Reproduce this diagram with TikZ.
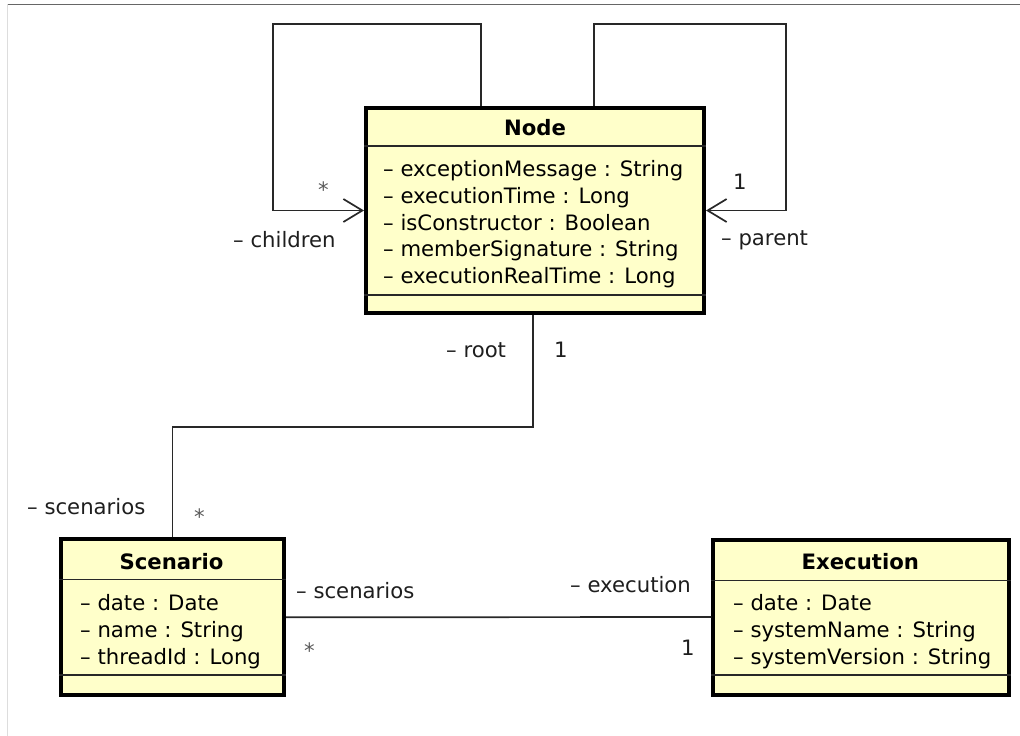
\documentclass[tikz,border=0pt]{standalone}
\usepackage{fontspec}
\setmainfont{DejaVu Sans}
\usetikzlibrary{arrows.meta}
\definecolor{classfill}{RGB}{255,255,202}
\definecolor{linegray}{RGB}{40,40,40}
\definecolor{labelgray}{RGB}{30,30,30}
\newcommand{\txtf}{\fontsize{21.2}{26}\selectfont}
\tikzset{
  classbox/.style={draw=black, line width=4pt, fill=classfill, rectangle, inner sep=0pt},
  sepline/.style={draw=linegray, line width=1.6pt},
  assoc/.style={draw=linegray, line width=1.7pt},
  navarrow/.style={-{Straight Barb[length=19pt,width=23pt]}},
  attr/.style={anchor=base west, inner sep=0pt, font=\txtf, text=black},
  ctitle/.style={anchor=base, inner sep=0pt, font=\txtf\bfseries, text=black},
  lbl/.style={anchor=base west, inner sep=0pt, font=\txtf, text=labelgray},
  star/.style={anchor=base west, inner sep=0pt, font=\txtf, text={rgb,255:red,90;green,90;blue,90}},
}
\begin{document}
\begin{tikzpicture}[x=1pt,y=-1pt]
\useasboundingbox (0,0) rectangle (1020,736);
% frame
\draw[draw={rgb,255:red,102;green,102;blue,102}, line width=1.5pt] (8,4.5) -- (1020,4.5);
\draw[draw={rgb,255:red,221;green,221;blue,221}, line width=1pt] (7.5,4) -- (7.5,736);

% class boxes
\node[classbox, minimum width=338pt, minimum height=205pt] (nodeC) at (535,210.5) {};
\node[classbox, minimum width=223.3pt, minimum height=156pt] (scen) at (172.35,617.3) {};
\node[classbox, minimum width=296pt, minimum height=155pt] (exec) at (861.3,617) {};

% separators
\coordinate (ns1) at (0,146); \coordinate (ns2) at (0,295);
\draw[sepline] (nodeC.west |- ns1) -- (nodeC.east |- ns1);
\draw[sepline] (nodeC.west |- ns2) -- (nodeC.east |- ns2);
\coordinate (ss1) at (0,579.5); \coordinate (ss2) at (0,675);
\draw[sepline] (scen.west |- ss1) -- (scen.east |- ss1);
\draw[sepline] (scen.west |- ss2) -- (scen.east |- ss2);
\coordinate (es1) at (0,580.5); \coordinate (es2) at (0,675);
\draw[sepline] (exec.west |- es1) -- (exec.east |- es1);
\draw[sepline] (exec.west |- es2) -- (exec.east |- es2);

% Node texts
\node[ctitle] (tN) at (535,135) {Node};
\node[attr] (n1) at (383,176.7) {– exceptionMessage : String};
\node[attr] (n2) at (383,203.3) {– executionTime : Long};
\node[attr] (n3) at (383,230) {– isConstructor : Boolean};
\node[attr] (n4) at (383,256.7) {– memberSignature : String};
\node[attr] (n5) at (383,283.3) {– executionRealTime : Long};

% Scenario texts
\node[ctitle] (tS) at (171.5,569.3) {Scenario};
\node[attr] (s1) at (80,610.7) {– date : Date};
\node[attr] (s2) at (80,637.3) {– name : String};
\node[attr] (s3) at (80,664) {– threadId : Long};

% Execution texts
\node[ctitle] (tE) at (860.3,569.3) {Execution};
\node[attr] (e1) at (733,610.7) {– date : Date};
\node[attr] (e2) at (733,637.3) {– systemName : String};
\node[attr] (e3) at (733,664) {– systemVersion : String};

% self loops
\coordinate (la) at (481,24); \coordinate (lb) at (272.7,24);
\draw[assoc, navarrow] (nodeC.north -| la) |- (lb) |- (nodeC.west);
\coordinate (ra) at (594,24); \coordinate (rb) at (786,24);
\draw[assoc, navarrow] (nodeC.north -| ra) |- (rb) |- (nodeC.east);

% root association
\coordinate (rootx) at (532.7,0); \coordinate (rootbend) at (0,426.7);
\draw[assoc] (nodeC.south -| rootx) -- (rootx |- rootbend) -| (scen.north);

% scenario-execution
\draw[assoc] (scen.east) -- (exec.west);

% labels
\node[lbl] (lchild) at (233,247.7) {– children};
\node[star] (lstar1) at (318,197) {*};
\node[lbl] (lone1) at (733,189) {1};
\node[lbl] (lparent) at (721,245) {– parent};
\node[lbl] (lroot) at (446,357.7) {– root};
\node[lbl] (lone2) at (554,357.7) {1};
\node[lbl] (lscen1) at (27,514) {– scenarios};
\node[star] (lstar2) at (194,524) {*};
\node[lbl] (lscen2) at (296,598.3) {– scenarios};
\node[star] (lstar3) at (304,658) {*};
\node[lbl] (lexec) at (570,592.7) {– execution};
\node[lbl] (lone3) at (681,655) {1};
\end{tikzpicture}
\end{document}
